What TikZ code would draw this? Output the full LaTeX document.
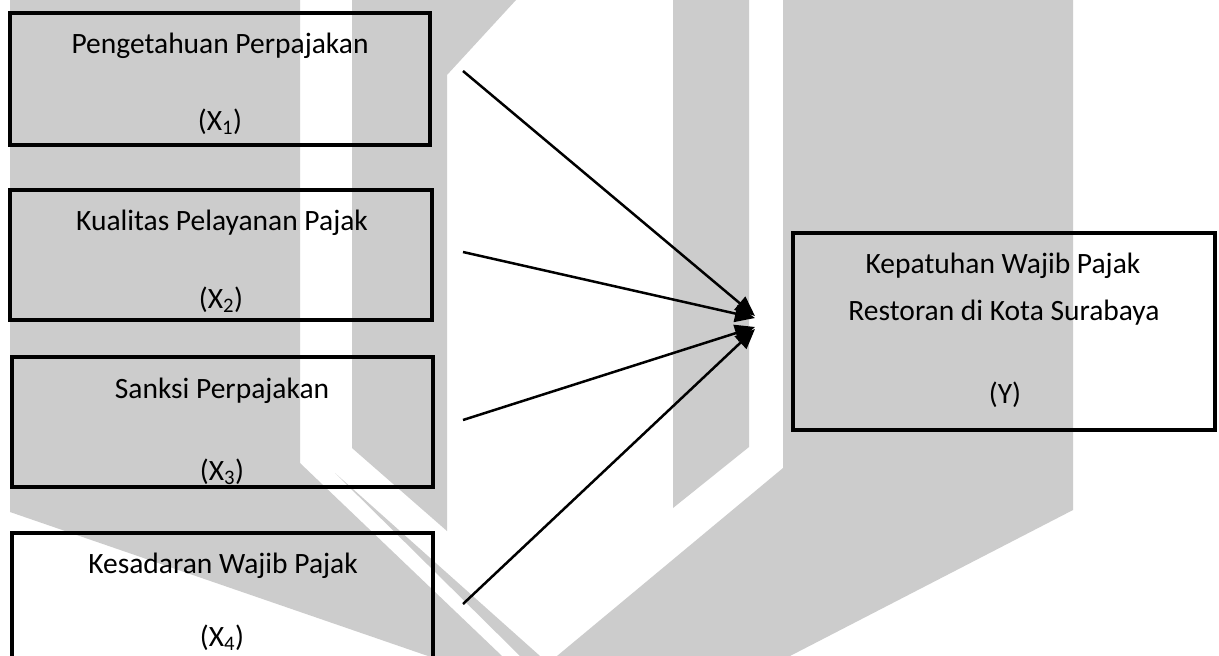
\documentclass[tikz,border=0pt]{standalone}
\usepackage{fontspec}
\setmainfont{Carlito}
\usetikzlibrary{arrows.meta}
\definecolor{wm}{HTML}{CCCCCC}
\begin{document}
\begin{tikzpicture}[x=1pt,y=-1pt,
  boxnode/.style={draw=black, line width=4pt, inner sep=0pt, outer sep=0pt, rectangle},
  lbl/.style={font=\fontsize{29.5}{35}\selectfont, inner sep=0pt, anchor=base},
  arr/.style={line width=2.5pt, -{Triangle[length=20pt,width=17pt]}},
  wmark/.style={fill=wm, draw=none}]
\clip (0,0) rectangle (1219,656);
\fill[white] (0,0) rectangle (1219,656);
% watermark
\fill[wmark] (10,0) -- (300,0) -- (300,463) -- (502,656) -- (428,656) -- (10,512) -- cycle;
\fill[wmark] (352,0) -- (516,0) -- (447,75) -- (447,531) -- (352,448) -- cycle;
\fill[wmark] (335,473) -- (447,573) -- (540,656) -- (520,656) -- cycle;
\fill[wmark] (673,0) -- (749,0) -- (749,447) -- (673,508) -- cycle;
\fill[wmark] (783,0) -- (1073,0) -- (1073,510) -- (790,656) -- (557,656) -- (783,468) -- cycle;
% boxes
\node[boxnode, minimum width=420pt, minimum height=132pt] (b1) at (220,79) {};
\node[boxnode, minimum width=422pt, minimum height=130pt] (b2) at (221,255) {};
\node[boxnode, minimum width=421pt, minimum height=130pt] (b3) at (222.5,422) {};
\node[boxnode, minimum width=421pt, minimum height=137pt] (b4) at (222.5,601.5) {};
\node[boxnode, minimum width=422pt, minimum height=197pt] (by) at (1004,331.5) {};
% labels
\node[lbl] (b1a) at (220,53) {Pengetahuan Perpajakan};
\node[lbl] (b1b) at (220,130) {(X\textsubscript{1})};
\node[lbl] (b2a) at (222,230) {Kualitas Pelayanan Pajak};
\node[lbl] (b2b) at (221,308) {(X\textsubscript{2})};
\node[lbl] (b3a) at (222,398) {Sanksi Perpajakan};
\node[lbl] (b3b) at (222,480) {(X\textsubscript{3})};
\node[lbl] (b4a) at (223,573) {Kesadaran Wajib Pajak};
\node[lbl] (b4b) at (222,646) {(X\textsubscript{4})};
\node[lbl] (bya) at (1003,273) {Kepatuhan Wajib Pajak};
\node[lbl] (byb) at (1004,320) {Restoran di Kota Surabaya};
\node[lbl] (byc) at (1005,403) {(Y)};
% connectors
\coordinate (a1) at (463,71);
\coordinate (a2) at (463,252);
\coordinate (a3) at (463,420);
\coordinate (a4) at (463,604);
\coordinate (t1) at (755,316);
\coordinate (t2) at (755,318);
\coordinate (t3) at (755,327);
\coordinate (t4) at (755,329);
\draw[arr] (a1) -- (t1);
\draw[arr] (a2) -- (t2);
\draw[arr] (a3) -- (t3);
\draw[arr] (a4) -- (t4);
\end{tikzpicture}
\end{document}
